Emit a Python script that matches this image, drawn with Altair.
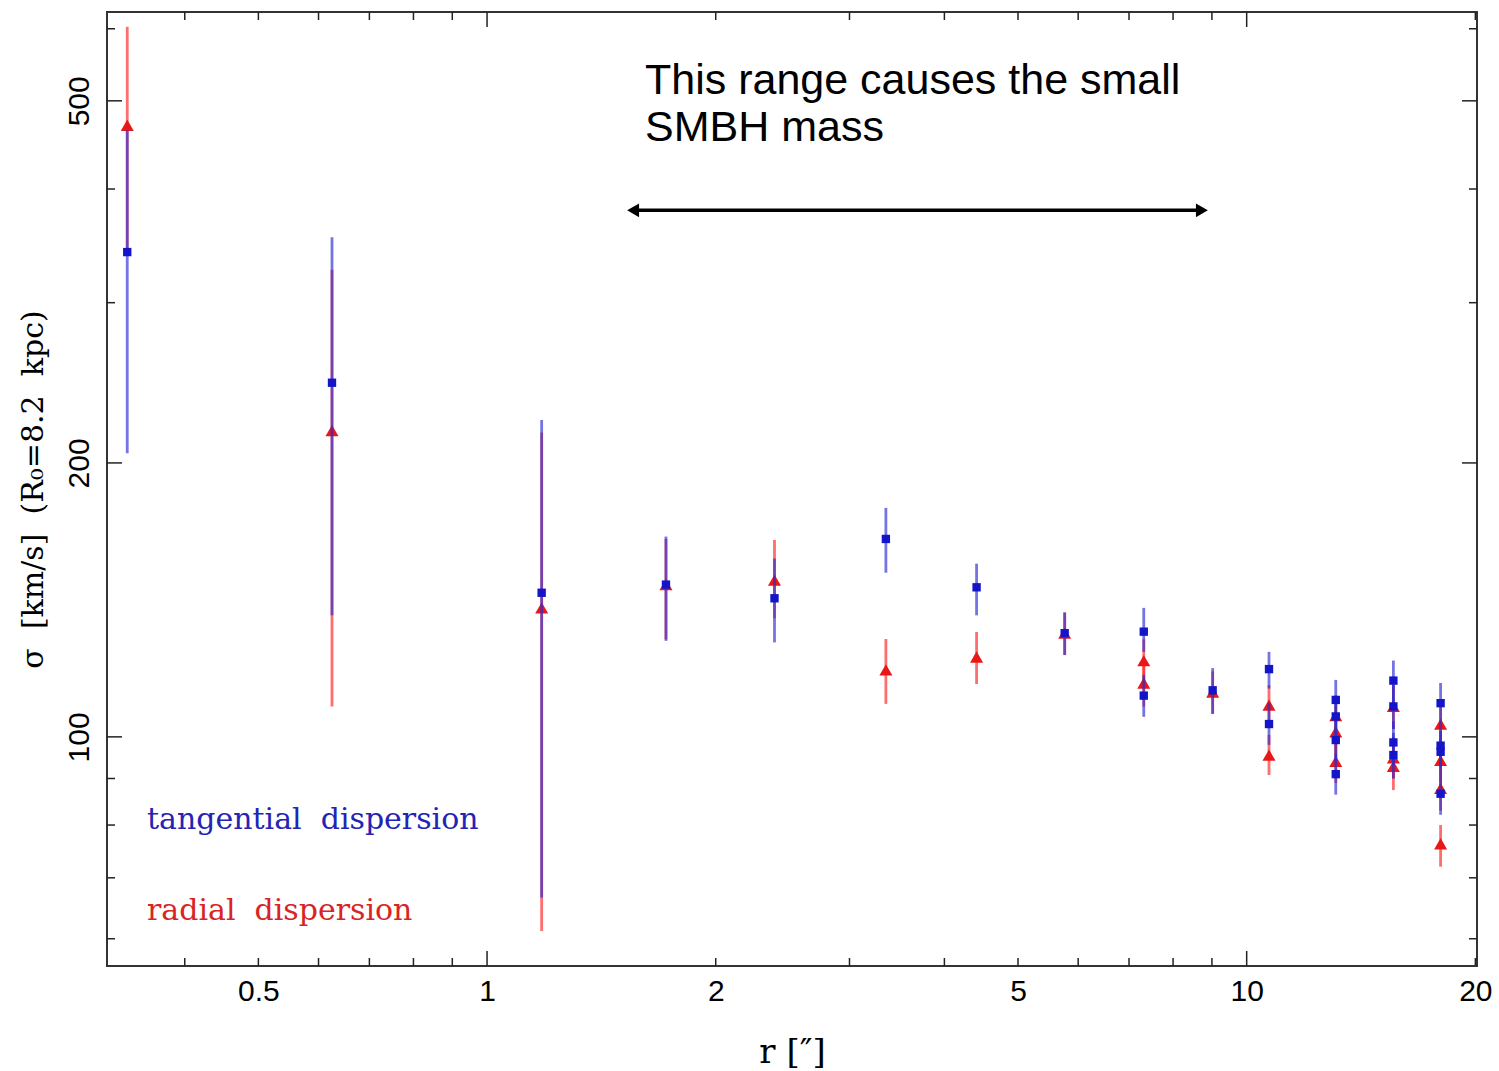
import altair as alt
import pandas as pd

# ---------------- data ----------------
# tangential dispersion
tan_r = [0.336, 0.625, 1.18, 1.72, 2.39, 3.35, 4.41, 5.76, 7.32, 7.32, 9.02,
         10.7, 10.7, 13.1, 13.1, 13.1, 13.1, 15.6, 15.6, 15.6, 15.6,
         18.0, 18.0, 18.0, 18.0]
tan_sigma = [341, 245, 144, 147, 142, 165, 146, 130, 130.5, 111, 112.5,
             118.7, 103.3, 109.8, 105.3, 99.2, 91.0, 115.3, 108, 98.6, 95.5,
             108.9, 97.8, 96.3, 86.6]
tan_lo = [205, 136, 66.6, 127.5, 127, 151.5, 136, 123, 124, 105.2, 106,
          113, 98, 104, 100, 94, 86.4, 109, 102, 93, 90,
          103, 92.5, 91, 82.1]
tan_hi = [464, 354, 223, 166, 157, 178.5, 155, 137, 138.6, 117, 119,
          124, 109, 115.5, 111, 104.5, 96, 121.3, 114, 104, 101,
          114.6, 103, 101.5, 91]

# radial dispersion
rad_r = [0.336, 0.625, 1.18, 1.72, 2.39, 3.35, 4.41, 5.76, 7.32, 7.32, 9.02,
         10.7, 10.7, 13.1, 13.1, 13.1, 15.6, 15.6, 15.6,
         18.0, 18.0, 18.0, 18.0]
rad_sigma = [470, 217, 138.6, 147, 148.7, 118.5, 122.4, 130, 121.3, 114.6, 112,
             108.4, 95.5, 105.5, 101.3, 94.0, 108, 94.8, 92.8,
             103.3, 94.2, 87.8, 76.3]
rad_lo = [341, 108, 61.2, 128, 135, 108.7, 114.3, 123, 114, 108, 106,
          103, 90.8, 100, 96, 89, 102, 90, 87.4,
          98, 89, 83, 72.0]
rad_hi = [603, 326, 216, 165, 164.6, 128.1, 130.4, 137, 128, 121, 118,
          114, 100.5, 111, 106.5, 99, 114, 100, 98,
          108.5, 99.5, 92.5, 80.0]

# axis ticks / labels
x_label_values = [0.5, 1, 2, 5, 10, 20]
x_minor_ticks = [0.4, 0.5, 0.6, 0.7, 0.8, 0.9, 2, 3, 4, 5, 6, 7, 8, 9, 20]
x_major_ticks = [1, 10]
y_label_values = [100, 200, 500]
y_minor_ticks = [60, 70, 80, 90, 300, 400, 600]
y_major_ticks = [100, 200, 500]

# annotations (data coordinates)
NB = "\u00a0"
note_lines = ["This range causes the small", "SMBH mass"]
note_r = [1.614, 1.614]
note_sigma = [509, 452]
arrow_r = [1.557]
arrow_r2 = [8.73]
arrow_sigma = [379]
legend_texts = ["tangential" + NB + " dispersion", "radial" + NB + " dispersion"]
legend_r = [0.3567, 0.3567]
legend_sigma = [79.24, 62.9]
legend_colors = ["#2424b4", "#d82424"]

# ---------------- chart ----------------
W, H = 1370, 954
BLUE = "#1414c8"
BLUE_BAR = "#2a2ad4"
RED = "#e81818"
RED_BAR = "#ff2020"

xs = alt.Scale(type="log", domain=[0.316, 20.1], nice=False)
ys = alt.Scale(type="log", domain=[56, 626], nice=False)

x_axis = alt.Axis(values=x_label_values, format="~g", ticks=False, domain=False,
                  grid=False, labelFont="Liberation Sans", labelFontSize=30,
                  labelColor="black", labelPadding=10, labelFlush=False,
                  labelOverlap=False,
                  title="r [″]", titleFont="DejaVu Serif", titleFontSize=34,
                  titleFontWeight="normal", titleColor="black", titlePadding=29)
y_axis = alt.Axis(values=y_label_values, format="~g", ticks=False, domain=False,
                  grid=False, labelFont="Liberation Sans", labelFontSize=30,
                  labelColor="black", labelAngle=270, labelAlign="center",
                  labelBaseline="bottom", labelPadding=13, labelFlush=False,
                  labelOverlap=False,
                  title="σ" + NB + " [km/s]" + NB + " (R₀=8.2" + NB + " kpc)",
                  titleFont="DejaVu Serif",
                  titleFontSize=30, titleFontWeight="normal", titleColor="black",
                  titlePadding=16)


def X(field):
    return alt.X(f"{field}:Q", scale=xs, axis=x_axis)


def Y(field):
    return alt.Y(f"{field}:Q", scale=ys, axis=y_axis)


tan_df = pd.DataFrame({"r": tan_r, "sigma": tan_sigma, "lo": tan_lo, "hi": tan_hi})
rad_df = pd.DataFrame({"r": rad_r, "sigma": rad_sigma, "lo": rad_lo, "hi": rad_hi})

rad_bars = alt.Chart(rad_df).mark_rule(color=RED_BAR, strokeWidth=2.8, opacity=0.65).encode(
    x=X("r"), y=Y("lo"), y2="hi")
rad_pts = alt.Chart(rad_df).mark_point(shape="triangle-up", filled=True, size=170,
                                       color=RED, opacity=1).encode(x=X("r"), y=Y("sigma"))
tan_bars = alt.Chart(tan_df).mark_rule(color=BLUE_BAR, strokeWidth=2.8, opacity=0.65).encode(
    x=X("r"), y=Y("lo"), y2="hi")
tan_pts = alt.Chart(tan_df).mark_point(shape="square", filled=True, size=70,
                                       color=BLUE, opacity=1).encode(x=X("r"), y=Y("sigma"))

# inward ticks on all four sides
xmin_df = pd.DataFrame({"r": x_minor_ticks})
xmaj_df = pd.DataFrame({"r": x_major_ticks})
ymin_df = pd.DataFrame({"sigma": y_minor_ticks})
ymaj_df = pd.DataFrame({"sigma": y_major_ticks})
tick_layers = []
for df, L in [(xmin_df, 8), (xmaj_df, 15)]:
    tick_layers.append(alt.Chart(df).mark_rule(color="#222", strokeWidth=1.5).encode(
        x=X("r"), y=alt.value(H), y2=alt.value(H - L)))
    tick_layers.append(alt.Chart(df).mark_rule(color="#222", strokeWidth=1.5).encode(
        x=X("r"), y=alt.value(0), y2=alt.value(L)))
for df, L in [(ymin_df, 8), (ymaj_df, 15)]:
    tick_layers.append(alt.Chart(df).mark_rule(color="#222", strokeWidth=1.5).encode(
        y=Y("sigma"), x=alt.value(0), x2=alt.value(L)))
    tick_layers.append(alt.Chart(df).mark_rule(color="#222", strokeWidth=1.5).encode(
        y=Y("sigma"), x=alt.value(W), x2=alt.value(W - L)))

# annotation text and double arrow
note_df = pd.DataFrame({"r": note_r, "sigma": note_sigma, "label": note_lines})
note = alt.Chart(note_df).mark_text(align="left", baseline="alphabetic",
                                    font="Liberation Sans", fontSize=43,
                                    color="black").encode(x=X("r"), y=Y("sigma"), text="label:N")
arrow_df = pd.DataFrame({"r": arrow_r, "r2": arrow_r2, "sigma": arrow_sigma})
arrow_line = alt.Chart(arrow_df).mark_rule(color="black", strokeWidth=3.5).encode(
    x=X("r"), x2="r2", y=Y("sigma"))
head_l = alt.Chart(arrow_df).mark_point(shape="triangle-left", filled=True, size=190,
                                        color="black", opacity=1).encode(x=X("r"), y=Y("sigma"))
head_r = alt.Chart(arrow_df).mark_point(shape="triangle-right", filled=True, size=190,
                                        color="black", opacity=1).encode(x=X("r2"), y=Y("sigma"))

legend_df = pd.DataFrame({"r": legend_r, "sigma": legend_sigma, "label": legend_texts,
                          "c": legend_colors})
legend = alt.Chart(legend_df).mark_text(align="left", baseline="alphabetic",
                                        font="DejaVu Serif", fontSize=30).encode(
    x=X("r"), y=Y("sigma"), text="label:N", color=alt.Color("c:N", scale=None))

chart = alt.layer(
    rad_bars, rad_pts, tan_bars, tan_pts, *tick_layers,
    arrow_line, head_l, head_r, note, legend
).properties(
    width=W, height=H,
    autosize=alt.AutoSizeParams(type="none"),
    padding={"left": 107, "top": 12, "right": 22, "bottom": 105},
    background="white",
).configure_view(stroke="#333", strokeWidth=2)

chart.save("out.html", embed_options={"renderer": "svg", "actions": False})
